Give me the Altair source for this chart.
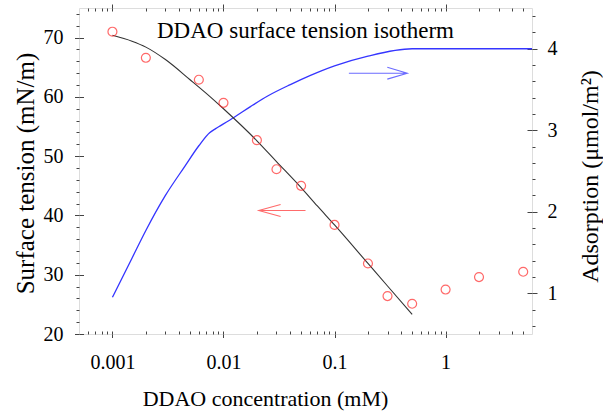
import altair as alt
import pandas as pd

SERIF = "Liberation Serif"
AXC = "#444444"

# ---- data ----
conc_exp = [0.001, 0.002, 0.006, 0.01, 0.02, 0.03, 0.05, 0.1, 0.2, 0.3, 0.5, 1, 2, 5]
tension_exp = [71.0, 66.6, 62.9, 59.0, 52.7, 47.8, 45.0, 38.4, 31.9, 26.4, 25.1, 27.5, 29.6, 30.5]

fit_conc = [0.001, 0.0015, 0.002, 0.003, 0.005, 0.007, 0.01, 0.02, 0.03, 0.05, 0.07, 0.1, 0.2, 0.3, 0.5]
fit_tension = [70.4, 69.4, 68.4, 66.3, 62.9, 60.6, 58.0, 52.6, 49.1, 44.7, 41.6, 38.4, 31.9, 28.1, 23.3]

ads_conc = [0.001, 0.0015, 0.002, 0.003, 0.0045, 0.006, 0.0075, 0.0085, 0.0095, 0.0125, 0.0175,
            0.025, 0.04, 0.06, 0.1, 0.2, 0.5, 6]
ads_value = [0.95, 1.43, 1.77, 2.20, 2.56, 2.81, 2.97, 3.02, 3.06, 3.16, 3.29,
             3.42, 3.56, 3.67, 3.79, 3.91, 4.0, 4.0]

# annotation arrows (data units): shaft then open head
red_arrow_conc = [0.0548, 0.0208, 0.0327, 0.0208, 0.0327]
red_arrow_tension = [40.84, 40.84, 41.85, 40.84, 39.83]
blue_arrow_conc = [0.1346, 0.452, 0.2986, 0.452, 0.2986]
blue_arrow_ads = [3.70, 3.70, 3.773, 3.70, 3.627]

title_text = ["DDAO surface tension isotherm"]

x_major = [0.001, 0.01, 0.1, 1]
x_minor = [0.0006, 0.0007, 0.0008, 0.0009,
           0.002, 0.003, 0.004, 0.005, 0.006, 0.007, 0.008, 0.009,
           0.02, 0.03, 0.04, 0.05, 0.06, 0.07, 0.08, 0.09,
           0.2, 0.3, 0.4, 0.5, 0.6, 0.7, 0.8, 0.9,
           2, 3, 4, 5]
left_major = [20, 30, 40, 50, 60, 70]
left_minor = [22, 24, 26, 28, 32, 34, 36, 38, 42, 44, 46, 48, 52, 54, 56, 58, 62, 64, 66, 68, 72, 74]
right_major = [1, 2, 3, 4]
right_minor = [0.6, 0.8, 1.2, 1.4, 1.6, 1.8, 2.2, 2.4, 2.6, 2.8, 3.2, 3.4, 3.6, 3.8, 4.2, 4.4]

W, H = 453, 326

exp_df = pd.DataFrame({"c": conc_exp, "t": tension_exp})
fit_df = pd.DataFrame({"c": fit_conc, "t": fit_tension})
ads_df = pd.DataFrame({"c": ads_conc, "a": ads_value})
red_df = pd.DataFrame({"c": red_arrow_conc, "t": red_arrow_tension, "i": list(range(len(red_arrow_conc)))})
blue_df = pd.DataFrame({"c": blue_arrow_conc, "a": blue_arrow_ads, "i": list(range(len(blue_arrow_conc)))})
title_df = pd.DataFrame({"label": title_text})

xs = alt.Scale(type="log", domain=[0.0005, 6], nice=False)
yl = alt.Scale(domain=[20, 75], nice=False, zero=False)
yr = alt.Scale(domain=[0.5, 4.5], nice=False, zero=False)

common = dict(grid=False, tickColor=AXC, tickWidth=1, domain=False, labelFont=SERIF, labelColor="black",
              titleFont=SERIF, titleColor="black", titleFontWeight="normal")

ax_bottom = alt.Axis(orient="bottom", values=x_major, format="~g", labelFontSize=20, tickSize=3.5,
                     labelPadding=14.5, title="DDAO concentration (mM)", titleFontSize=22,
                     titleX=186, titleY=71, titleAlign="center", titleBaseline="alphabetic",
                     labelFlush=False, **common)
ax_left = alt.Axis(orient="left", values=left_major, labelFontSize=20, tickSize=4.5, labelPadding=11.5,
                   title="Surface tension (mN/m)", titleFontSize=25, titleAngle=270, titleX=-46,
                   titleY=165, titleAlign="center", titleBaseline="alphabetic", **common)
ax_right = alt.Axis(orient="right", values=right_major, format="d", labelFontSize=20, tickSize=5,
                    labelPadding=10, title="Adsorption (μmol/m²)", titleFontSize=24, titleAngle=270,
                    titleX=65, titleY=168, titleAlign="center", titleBaseline="alphabetic", **common)

def tick_axis(orient, values, size, offset=0):
    return alt.Axis(orient=orient, values=values, labels=False, tickSize=size, offset=offset,
                    title="", grid=False, domain=False, tickColor=AXC, tickWidth=1)

ax_top_out = tick_axis("top", x_major, 4)
ax_top_in = tick_axis("bottom", x_major + x_minor, 3, -H)
ax_bottom_in = tick_axis("top", x_major + x_minor, 3, -H)
ax_left_minor = tick_axis("left", left_minor, 3)
ax_left_in = tick_axis("right", left_major, 4.5, -W)
ax_right_minor = tick_axis("right", right_minor, 3)
ax_right_in = tick_axis("left", right_major, 5, -W)

ads_line = alt.Chart(ads_df).mark_line(color="#3535ff", strokeWidth=1.3, interpolate="monotone").encode(
    x=alt.X("c:Q", scale=xs, axis=ax_bottom_in),
    y=alt.Y("a:Q", scale=yr, axis=ax_right),
)
fit_line = alt.Chart(fit_df).mark_line(color="#333333", strokeWidth=1.1, interpolate="monotone").encode(
    x=alt.X("c:Q", scale=xs, axis=ax_top_out),
    y=alt.Y("t:Q", scale=yl, axis=ax_left_minor),
)
red_arrow = alt.Chart(red_df).mark_line(color="#ff6b6b", strokeWidth=1.1).encode(
    x=alt.X("c:Q", scale=xs, axis=ax_top_in),
    y=alt.Y("t:Q", scale=yl, axis=ax_left_in),
    order=alt.Order("i:Q"),
)
blue_arrow = alt.Chart(blue_df).mark_line(color="#6b6bff", strokeWidth=1.1).encode(
    x=alt.X("c:Q", scale=xs, axis=None),
    y=alt.Y("a:Q", scale=yr, axis=ax_right_minor),
    order=alt.Order("i:Q"),
)
carrier = alt.Chart(ads_df).mark_point(opacity=0).encode(
    x=alt.X("c:Q", scale=xs, axis=None),
    y=alt.Y("a:Q", scale=yr, axis=ax_right_in),
)
points = alt.Chart(exp_df).mark_point(shape="circle", filled=False, size=80, color="#ff2a2a",
                                      strokeWidth=1.2).encode(
    x=alt.X("c:Q", scale=xs, axis=ax_bottom),
    y=alt.Y("t:Q", scale=yl, axis=ax_left),
)
title = alt.Chart(title_df).mark_text(align="left", baseline="alphabetic", font=SERIF, fontSize=23,
                                      color="black").encode(
    x=alt.value(78), y=alt.value(30), text="label:N"
)

chart = alt.layer(ads_line, fit_line, red_arrow, blue_arrow, carrier, points, title).resolve_scale(
    y="independent"
).resolve_axis(
    x="independent", y="independent"
).properties(
    width=W, height=H,
    autosize=alt.AutoSizeParams(type="none"),
    padding={"left": 79, "top": 8, "right": 71, "bottom": 82},
).configure_view(stroke=AXC, strokeWidth=1).configure(background="white")

chart.save("out.html", embed_options={"renderer": "svg", "actions": False})
